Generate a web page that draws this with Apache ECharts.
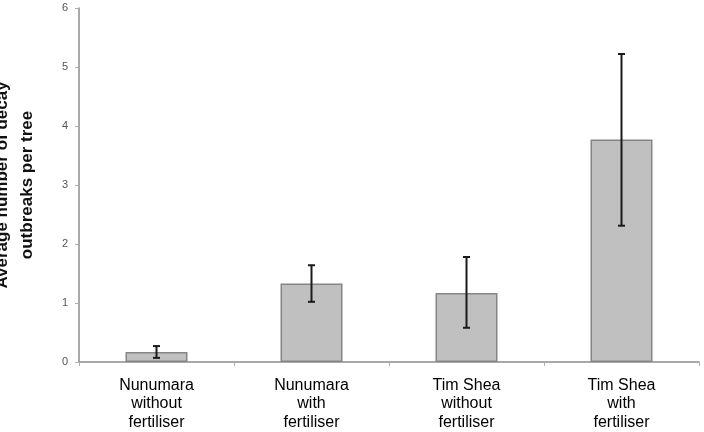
<!DOCTYPE html>
<html style="height: 100%">
<head>
<meta charset="UTF-8">
<script src="https://cdn.jsdelivr.net/npm/echarts@6/dist/echarts.min.js"></script>
</head>
<body style="height: 100%; margin: 0">
<div id="container" style="width: 704px; height: 432px"></div>
<script type="text/javascript">
var categories = ['Nunumara\nwithout\nfertiliser', 'Nunumara\nwith\nfertiliser', 'Tim Shea\nwithout\nfertiliser', 'Tim Shea\nwith\nfertiliser'];
var means = [0.17, 1.33, 1.17, 3.77];
var errLow = [0.07, 1.02, 0.58, 2.31];
var errHigh = [0.27, 1.64, 1.78, 5.22];
var yTicks = [0, 1, 2, 3, 4, 5, 6];

var errData = [];
for (var i = 0; i < categories.length; i++) {
  errData.push([i, errLow[i], errHigh[i]]);
}

var myChart = echarts.init(document.getElementById('container'));
var option = {
  animation: false,
  grid: { left: 79, right: 5, top: 8, bottom: 70, containLabel: false, outerBoundsMode: 'none' },
  xAxis: {
    type: 'category',
    data: categories,
    axisLine: { lineStyle: { color: '#8c8c8c', width: 1.5 } },
    axisTick: { show: true, length: 4, lineStyle: { color: '#b0b0b0' } },
    axisLabel: {
      color: '#000',
      fontFamily: 'Liberation Sans',
      fontSize: 16,
      lineHeight: 18.5,
      margin: 14
    }
  },
  yAxis: {
    type: 'value',
    min: yTicks[0],
    max: yTicks[yTicks.length - 1],
    interval: 1,
    name: 'Average number of decay\noutbreaks per tree',
    nameLocation: 'middle',
    nameGap: 39,
    nameTextStyle: {
      color: '#111',
      fontFamily: 'Liberation Sans',
      fontSize: 17,
      fontWeight: 'bold',
      lineHeight: 25
    },
    axisLine: { show: true, lineStyle: { color: '#8c8c8c', width: 1.5 } },
    axisTick: { show: true, length: 4, lineStyle: { color: '#b0b0b0' } },
    axisLabel: { color: '#555', fontFamily: 'Liberation Sans', fontSize: 11, margin: 11 },
    splitLine: { show: false }
  },
  series: [
    {
      type: 'bar',
      data: means,
      barWidth: '40%',
      itemStyle: { color: '#c0c0c0', borderColor: '#858585', borderWidth: 1.5 }
    },
    {
      type: 'custom',
      data: errData,
      z: 10,
      renderItem: function (params, api) {
        var lo = api.coord([api.value(0), api.value(1)]);
        var hi = api.coord([api.value(0), api.value(2)]);
        var cap = 3.5;
        var st = { stroke: '#1a1a1a', lineWidth: 2 };
        return {
          type: 'group',
          children: [
            { type: 'line', shape: { x1: hi[0], y1: hi[1], x2: lo[0], y2: lo[1] }, style: st },
            { type: 'line', shape: { x1: hi[0] - cap, y1: hi[1], x2: hi[0] + cap, y2: hi[1] }, style: st },
            { type: 'line', shape: { x1: lo[0] - cap, y1: lo[1], x2: lo[0] + cap, y2: lo[1] }, style: st }
          ]
        };
      }
    }
  ]
};
myChart.setOption(option);
</script>
</body>
</html>
